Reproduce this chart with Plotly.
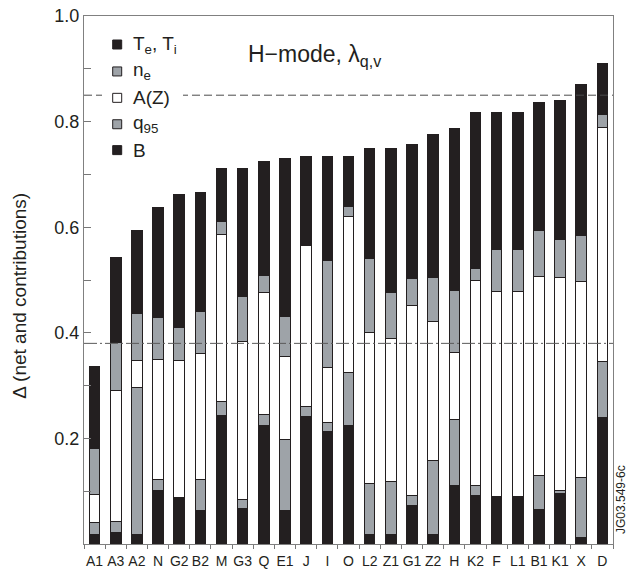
import plotly.graph_objects as go

# Devices / scenarios along the x axis
categories = ["A1", "A3", "A2", "N", "G2", "B2", "M", "G3", "Q", "E1", "J", "I", "O",
              "L2", "Z1", "G1", "Z2", "H", "K2", "F", "L1", "B1", "K1", "X", "D"]

# Contributions to Delta, stacked bottom to top
b_field = [0.018, 0.021, 0.018, 0.102, 0.088, 0.064, 0.244, 0.068, 0.225, 0.063, 0.242, 0.213, 0.225,
           0.018, 0.018, 0.073, 0.018, 0.111, 0.092, 0.090, 0.090, 0.065, 0.096, 0.012, 0.240]
q95 = [0.022, 0.022, 0.278, 0.021, 0.000, 0.059, 0.025, 0.017, 0.021, 0.135, 0.018, 0.017, 0.099,
       0.096, 0.100, 0.019, 0.141, 0.124, 0.019, 0.000, 0.000, 0.064, 0.005, 0.114, 0.105]
a_z = [0.054, 0.248, 0.051, 0.227, 0.259, 0.237, 0.318, 0.298, 0.230, 0.158, 0.306, 0.104, 0.296,
       0.286, 0.271, 0.360, 0.262, 0.127, 0.388, 0.389, 0.389, 0.378, 0.403, 0.371, 0.444]
n_e = [0.086, 0.090, 0.090, 0.079, 0.063, 0.080, 0.023, 0.085, 0.033, 0.074, 0.000, 0.202, 0.020,
       0.140, 0.087, 0.050, 0.083, 0.118, 0.023, 0.079, 0.079, 0.086, 0.073, 0.087, 0.025]
t_e_t_i = [0.157, 0.161, 0.157, 0.208, 0.252, 0.225, 0.101, 0.243, 0.215, 0.300, 0.167, 0.197, 0.093,
           0.209, 0.273, 0.254, 0.272, 0.307, 0.295, 0.259, 0.259, 0.243, 0.263, 0.287, 0.096]

# Reference levels
level_dashed = 0.85
level_dashdot = 0.38

y_major = [0.2, 0.4, 0.6, 0.8, 1.0]
y_major_text = ["0.2", "0.4", "0.6", "0.8", "1.0"]
y_minor = [0.1, 0.3, 0.5, 0.7, 0.9]

BLACK = "#231f20"
GREY = "#9ea3a8"
WHITE = "#ffffff"
FONT = "Liberation Sans, Arial, Helvetica, sans-serif"

series = [
    ("B", b_field, BLACK),
    ("q<sub>95</sub>", q95, GREY),
    ("A(Z)", a_z, WHITE),
    ("n<sub>e</sub>", n_e, GREY),
    ("T<sub>e</sub>, T<sub>i</sub>", t_e_t_i, BLACK),
]

fig = go.Figure()
for name, vals, col in series:
    fig.add_trace(go.Bar(
        x=categories, y=vals, name=name,
        marker=dict(color=col, line=dict(color=BLACK, width=1)),
        width=0.5,
    ))

W, H = 636, 576
L, R, T, B = 84, 23, 16, 32
pw = W - L - R


def px_x(px):
    return (px - L) / pw


shapes = [
    dict(type="line", xref="paper", yref="y", x0=0, x1=1, y0=level_dashed, y1=level_dashed,
         line=dict(color="#4a4a4a", width=1, dash="8px,4px"), layer="above"),
    dict(type="line", xref="paper", yref="y", x0=0, x1=1, y0=level_dashdot, y1=level_dashdot,
         line=dict(color="#5a5a5a", width=1, dash="13px,3px,2px,3px"), layer="above"),
    # blank panel behind the key
    dict(type="rect", xref="paper", yref="y", x0=px_x(102), x1=px_x(183), y0=0.72, y1=0.975,
         fillcolor="white", line=dict(width=0), layer="above"),
]

# Key: swatch + label per contribution, top to bottom
key_rows = [0.946, 0.895, 0.845, 0.795, 0.746]
key_items = list(reversed(series))
half = 4.5 / 528.3
annotations = []
for yv, (name, _, col) in zip(key_rows, key_items):
    shapes.append(dict(type="rect", xref="paper", yref="y", x0=px_x(112.7), x1=px_x(121.7),
                       y0=yv - half, y1=yv + half, fillcolor=col,
                       line=dict(color=BLACK, width=1), layer="above"))
    annotations.append(dict(xref="paper", yref="y", x=px_x(131), y=yv, text=name,
                            xanchor="left", yanchor="middle", showarrow=False,
                            font=dict(family=FONT, size=19, color=BLACK)))

annotations.append(dict(xref="paper", yref="y", x=px_x(246), y=0.926,
                        text="H\u2212mode, \u03bb<sub>q,v</sub>", xanchor="left", yanchor="middle",
                        showarrow=False, font=dict(family=FONT, size=23, color=BLACK)))
annotations.append(dict(xref="paper", yref="paper", x=px_x(20), y=0.47,
                        text="\u0394 (net and contributions)", textangle=-90,
                        xanchor="center", yanchor="middle", showarrow=False,
                        font=dict(family=FONT, size=19, color=BLACK)))
annotations.append(dict(xref="paper", yref="paper", x=px_x(621), y=(544 - 500) / 528.3,
                        text="JG03.549-6c", textangle=-90,
                        xanchor="center", yanchor="middle", showarrow=False,
                        font=dict(family=FONT, size=12, color=BLACK)))

fig.update_layout(
    barmode="stack",
    width=W, height=H,
    margin=dict(l=L, r=R, t=T, b=B, autoexpand=False),
    plot_bgcolor="white", paper_bgcolor="white",
    showlegend=False,
    shapes=shapes,
    annotations=annotations,
    xaxis=dict(
        type="category", range=[-0.5, len(categories) - 0.5], automargin=False,
        tickson="boundaries", ticks="outside", ticklen=4, tickcolor="#777",
        showline=True, linecolor="#808080", linewidth=1, mirror=True,
        showgrid=False, tickangle=0, ticklabelstandoff=4,
        tickfont=dict(family=FONT, size=14, color=BLACK),
    ),
    yaxis=dict(
        range=[0, 1.0], tickmode="array", tickvals=y_major, ticktext=y_major_text,
        automargin=False,
        ticks="inside", ticklen=7, tickcolor="#777",
        minor=dict(tickmode="array", tickvals=y_minor, ticks="inside", ticklen=7, tickcolor="#777"),
        showline=True, linecolor="#808080", linewidth=1, mirror=True,
        showgrid=False, zeroline=False,
        tickfont=dict(family=FONT, size=18, color=BLACK),
    ),
)

fig.write_html("out.html")
